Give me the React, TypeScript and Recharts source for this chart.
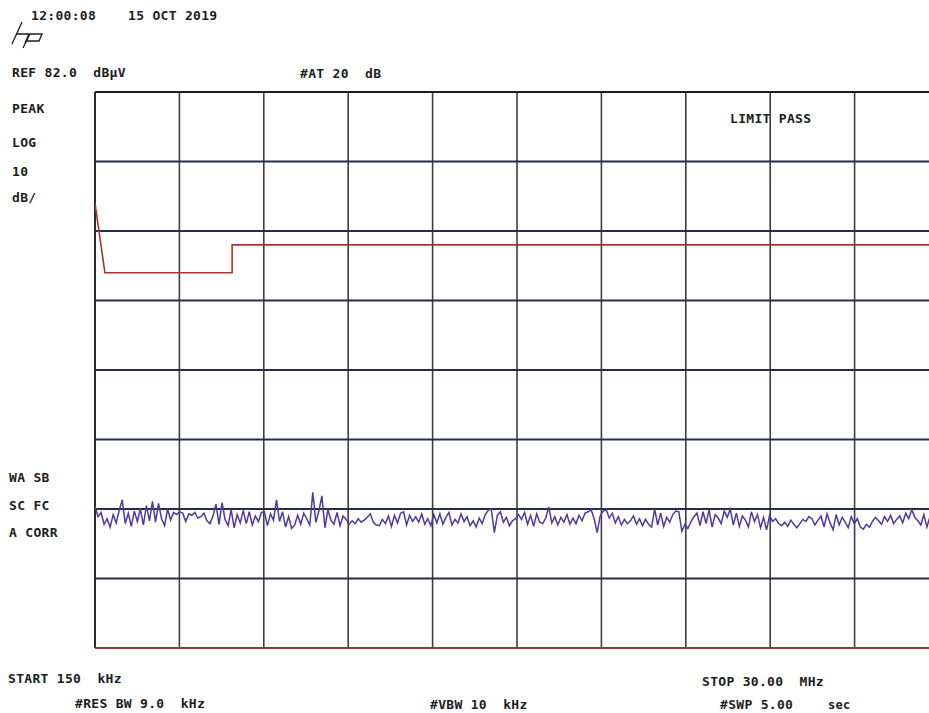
import React from 'react'
import { LineChart, Line, XAxis, YAxis, ReferenceLine } from 'recharts'

// sweep 150 kHz .. 30 MHz, linear, 10 div; REF 82 dBµV, 10 dB/div, 8 div
const freqTicks = [0.15, 3.135, 6.12, 9.105, 12.09, 15.075, 18.06, 21.045, 24.03, 27.015, 30]
const levelTicks = [2, 12, 22, 32, 42, 52, 62, 72, 82]

// limit line (dBµV)
const limitFreq = [0.15, 0.5, 5.0, 5.0, 30]
const limitLevel = [66, 56, 56, 60, 60]

const noiseLevel = [
  22.4, 20.9, 21.5, 19.8, 20.6, 19.4, 21.2, 20.0, 21.8, 23.3,
  19.9, 21.4, 19.5, 21.7, 20.2, 22.0, 19.7, 22.5, 20.3, 23.1,
  20.1, 22.8, 20.6, 19.6, 22.0, 20.4, 21.5, 21.2, 21.6, 21.4,
  20.2, 21.3, 21.1, 21.5, 20.7, 20.9, 21.4, 20.3, 19.9, 21.0,
  22.7, 19.8, 22.9, 20.5, 19.6, 21.9, 19.3, 21.2, 20.0, 21.8,
  19.9, 21.6, 19.7, 21.0, 20.2, 21.5, 21.6, 19.6, 21.3, 20.4,
  23.3, 20.2, 21.6, 19.4, 20.9, 19.2, 19.7, 21.1, 19.8, 21.4,
  20.6, 19.7, 24.4, 20.1, 21.7, 23.9, 19.3, 21.9, 20.4, 19.8,
  21.5, 19.6, 21.0, 20.5, 19.8, 20.3, 19.9, 20.6, 20.1, 20.4,
  20.8, 21.3, 20.1, 19.7, 19.6, 20.5, 19.9, 21.0, 19.5, 21.1,
  20.0, 21.4, 21.6, 19.7, 21.1, 20.2, 20.9, 20.1, 21.3, 19.8,
  20.6, 19.6, 21.2, 20.0, 21.3, 19.8, 20.8, 21.5, 19.7, 20.5,
  20.0, 21.3, 20.2, 20.9, 19.6, 20.3, 19.4, 20.7, 19.9, 21.2,
  21.8, 22.0, 18.6, 21.1, 21.6, 20.1, 20.8, 19.6, 20.3, 20.6,
  21.2, 20.5, 21.5, 19.8, 21.1, 19.5, 21.3, 20.1, 19.9, 20.7,
  22.3, 20.0, 20.9, 19.7, 20.8, 20.1, 21.2, 19.8, 20.7, 19.9,
  21.1, 20.3, 21.4, 21.6, 21.9, 20.6, 18.6, 21.0, 21.7, 21.9,
  20.7, 21.4, 20.0, 20.9, 19.7, 20.5, 19.9, 20.3, 21.0, 19.8,
  20.6, 19.6, 20.5, 19.8, 19.4, 22.0, 19.7, 21.4, 19.5, 20.8,
  20.1, 21.2, 21.7, 21.6, 18.8, 19.8, 19.2, 20.2, 20.9, 21.4,
  19.6, 21.6, 19.9, 21.9, 19.4, 21.2, 20.7, 19.9, 21.7, 20.8,
  22.0, 19.7, 21.4, 19.5, 21.0, 20.4, 19.4, 21.6, 20.2, 21.2,
  19.3, 20.8, 19.0, 21.1, 20.2, 20.6, 19.9, 19.6, 20.1, 19.5,
  20.4, 19.8, 19.3, 19.9, 20.5, 20.2, 20.9, 20.6, 19.7, 20.4,
  21.0, 19.4, 21.3, 20.0, 19.0, 21.2, 19.7, 20.8, 20.1, 19.3,
  20.9, 19.9, 20.6, 19.4, 19.1, 19.8, 19.4, 20.2, 20.8, 20.3,
  19.8, 20.9, 20.2, 21.1, 19.9, 20.5, 21.0, 20.0, 21.4, 20.6,
  21.9, 20.8, 20.3, 19.7, 21.2, 19.4, 20.9, 20.1, 21.1, 20.4,
]

const START = 0.15
const STOP = 30

const limitData = limitFreq.map((f, i) => ({ f, v: limitLevel[i] }))
const noiseData = noiseLevel.map((v, i) => ({
  f: START + (i * (STOP - START)) / (noiseLevel.length - 1),
  v,
}))

const font = '"DejaVu Sans Mono", monospace'
const ink = '#1c1c1c'

function Label({ x, y, children, size = 13 }: { x: number; y: number; children: React.ReactNode; size?: number }) {
  return (
    <text
      x={x}
      y={y}
      fontFamily={font}
      fontWeight="bold"
      fontSize={size}
      letterSpacing={0.3}
      fill={ink}
      style={{ whiteSpace: 'pre' }}
    >
      {children}
    </text>
  )
}

export default function App() {
  return (
    <div style={{ position: 'fixed', left: 0, top: 0, width: 929, height: 713, overflow: 'hidden', background: '#fff' }}>
      <div style={{ position: 'absolute', left: 0, top: 0 }}>
        <LineChart width={960} height={713} margin={{ top: 92, left: 95, right: 21, bottom: 65 }}>
          <XAxis type="number" dataKey="f" domain={[START, STOP]} hide allowDataOverflow />
          <YAxis type="number" domain={[2, 82]} hide allowDataOverflow />
          {freqTicks.map((t, i) => (
            <ReferenceLine key={'vx' + i} x={t} stroke={i === 0 ? '#2a2a2a' : '#3f3f3f'} strokeWidth={i === 0 ? 2 : 1.6} />
          ))}
          {levelTicks.map((t, i) => (
            <ReferenceLine
              key={'hy' + i}
              y={t}
              stroke={t === 2 ? '#8c3a2e' : t === 82 ? '#1d1d2a' : '#262c4f'}
              strokeWidth={t === 2 || t === 82 ? 2 : 1.8}
            />
          ))}
          <Line
            data={limitData}
            dataKey="v"
            type="linear"
            stroke="#a8352f"
            strokeWidth={1.6}
            dot={false}
            isAnimationActive={false}
          />
          <Line
            data={noiseData}
            dataKey="v"
            type="linear"
            stroke="#4e3a9e"
            strokeWidth={1.5}
            dot={false}
            isAnimationActive={false}
          />
        </LineChart>
      </div>

      <svg width={929} height={713} style={{ position: 'absolute', left: 0, top: 0, pointerEvents: 'none' }}>
        {/* hp logo */}
        <g stroke={ink} strokeWidth={1.3} fill="none">
          <path d="M12 44 L22 22" />
          <path d="M17 34 L29 34 L25 43" />
          <path d="M30 34 L42 34 L39 41 L27 41" />
          <path d="M30 34 L23 48" />
        </g>
        <Label x={31} y={20}>12:00:08</Label>
        <Label x={128} y={20}>15 OCT 2019</Label>
        <Label x={12} y={77}>REF 82.0  dBµV</Label>
        <Label x={300} y={78}>#AT 20  dB</Label>
        <Label x={12} y={113}>PEAK</Label>
        <Label x={12} y={147}>LOG</Label>
        <Label x={12} y={176}>10</Label>
        <Label x={12} y={202}>dB/</Label>
        <Label x={9} y={482}>WA SB</Label>
        <Label x={9} y={510}>SC FC</Label>
        <Label x={9} y={537}>A CORR</Label>
        <Label x={730} y={123}>LIMIT PASS</Label>
        <Label x={8} y={683}>START 150  kHz</Label>
        <Label x={702} y={686}>STOP 30.00  MHz</Label>
        <Label x={75} y={708}>#RES BW 9.0  kHz</Label>
        <Label x={430} y={709}>#VBW 10  kHz</Label>
        <Label x={720} y={709}>#SWP 5.00</Label>
        <Label x={828} y={709} size={12}>sec</Label>
      </svg>
    </div>
  )
}
